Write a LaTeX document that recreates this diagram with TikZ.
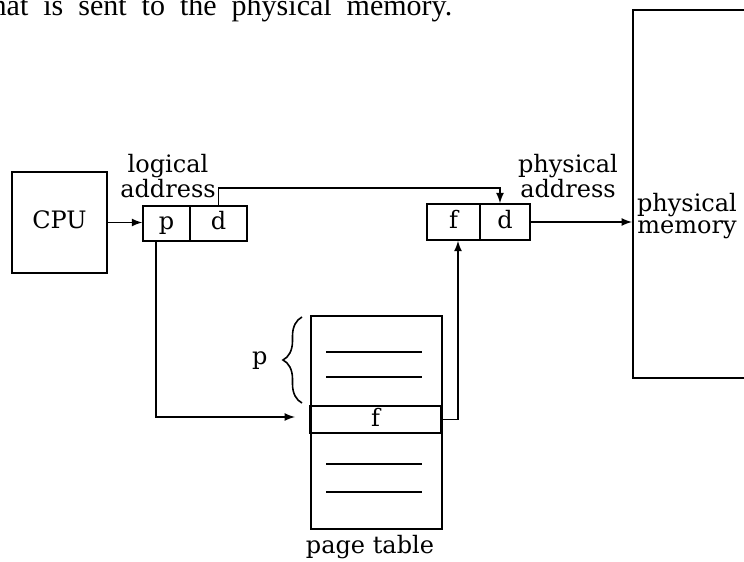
\documentclass[tikz,border=0pt]{standalone}
\usepackage{fontspec}
\setmainfont{DejaVu Serif}
\newfontfamily\bodyfont{Liberation Serif}
\usetikzlibrary{calc}
\usetikzlibrary{decorations,decorations.pathreplacing}
\tikzstyle{cell}=[draw, line width=0.8pt, inner sep=0pt, minimum height=17.5pt, text height=8pt, text depth=2pt, font=\fontsize{12}{11}\selectfont]
\tikzstyle{lbl}=[align=center, inner sep=0pt, font=\fontsize{12}{11}\selectfont]
\tikzstyle{wire}=[line width=0.8pt, -latex]
\begin{document}
\begin{tikzpicture}[x=0.5pt,y=-0.5pt]
\useasboundingbox (0,0) rectangle (744,562);
\node[anchor=base west, inner sep=0pt, font=\bodyfont\fontsize{15}{15}\selectfont] (txt) at (-17,15) {\spaceskip=7.5pt that is sent to the physical memory.};
\node[cell, minimum width=47.5pt, minimum height=50.5pt] (cpu) at (59.5,222.5) {CPU};
\node[cell, minimum width=23.5pt] (lp) at (166.5,223.5) {p};
\node[cell, minimum width=28.5pt] (ld) at (218.5,223.5) {d};
\node[lbl] (lal) at (168,176) {logical\\address};
\node[cell, minimum width=26.5pt, minimum height=18pt] (pf) at (453.5,222) {f};
\node[cell, minimum width=25pt, minimum height=18pt] (pd) at (505,222) {d};
\node[lbl] (pal) at (568,176) {physical\\address};
\node[draw, line width=0.8pt, minimum width=70pt, minimum height=184pt, anchor=north west] (mem) at (632,9) {};
\node[lbl] (meml) at (687,216) {physical\\memory};
\node[cell, minimum width=65.5pt, minimum height=106.5pt, anchor=north west] (pt) at (310,315) {};
\node[cell, minimum width=65.5pt, minimum height=13.5pt, text height=7pt, text depth=0pt] (ptf) at (375.5,419.5) {f};
\foreach \y in {352,377,464,492} {
	\draw[line width=0.8pt] (326,\y) -- (422,\y);
}
\node[lbl] (ptl) at (370,547) {page table};
\draw[decorate, decoration={brace, amplitude=9.5pt}, line width=0.8pt] (302,403) -- (302,317);
\node[lbl, anchor=base east] (pl) at (268,364) {p};
\coordinate (ptin) at (295,417);
\draw[wire] (cpu.east) -- (cpu.east -| lp.west);
\draw[wire] (ld.north) -- ++(0,-17) -| ($(pd.north)+(-5,0)$);
\draw[wire] ($(lp.south)+(-10.5,0)$) |- (ptin);
\draw[wire] (ptf.east) -| ($(pf.south)+(4.5,0)$);
\draw[wire] (pd.east) -- (pd.east -| mem.west);
\end{tikzpicture}
\end{document}
